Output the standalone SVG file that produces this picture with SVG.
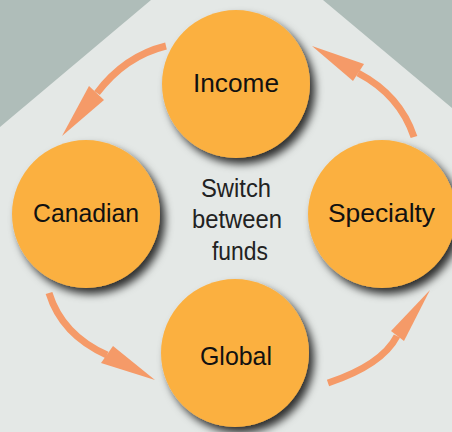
<svg xmlns="http://www.w3.org/2000/svg" width="452" height="432" viewBox="0 0 452 432">
  <style>
    .node circle { fill: #fbb041; filter: url(#shadow); }
    .label { font-family: "Liberation Sans", Arial, sans-serif; font-size: 26px; fill: #111; text-anchor: middle; }
    .center { font-family: "Liberation Sans", Arial, sans-serif; font-size: 25px; fill: #222; text-anchor: middle; }
    .shaft { fill: none; stroke: #f59a68; stroke-width: 7; stroke-linecap: butt; }
    .head { fill: #f59a68; }
  </style>
  <defs>
    <filter id="shadow" x="-30%" y="-30%" width="160%" height="160%">
      <feDropShadow dx="5" dy="6" stdDeviation="4" flood-color="#000" flood-opacity="0.8"/>
    </filter>
  </defs>

  <!-- backdrop -->
  <rect width="452" height="432" fill="#afbdb9"/>
  <polygon points="151,0 323,0 452,108 452,432 0,432 0,127" fill="#e4e8e6"/>

  <!-- connectors -->
  <g id="connectors">
    <path class="shaft" d="M166,46 Q125,56 97,93"/>
    <polygon class="head" points="89,86 104,100 62,136"/>

    <path class="shaft" d="M414,137 Q400,95 358,73"/>
    <polygon class="head" points="353,81 364,64 312,46"/>

    <path class="shaft" d="M49,293 Q62,335 107,355"/>
    <polygon class="head" points="101,363 113,346 155,380"/>

    <path class="shaft" d="M328,383 Q382,365 397,336"/>
    <polygon class="head" points="391,331 404,341 430,290"/>
  </g>

  <g id="income" class="node">
    <circle cx="236" cy="84" r="74"/>
    <text class="label" x="236" y="92" textLength="86" lengthAdjust="spacingAndGlyphs">Income</text>
  </g>
  <g id="canadian" class="node">
    <circle cx="86" cy="214" r="74"/>
    <text class="label" x="86" y="222" textLength="106" lengthAdjust="spacingAndGlyphs">Canadian</text>
  </g>
  <g id="specialty" class="node">
    <circle cx="382" cy="214" r="74"/>
    <text class="label" x="381.5" y="222" textLength="107" lengthAdjust="spacingAndGlyphs">Specialty</text>
  </g>
  <g id="global" class="node">
    <circle cx="235" cy="353" r="74"/>
    <text class="label" x="236" y="365" textLength="72" lengthAdjust="spacingAndGlyphs">Global</text>
  </g>

  <g id="hub">
    <text class="center" x="236" y="197" textLength="70" lengthAdjust="spacingAndGlyphs">Switch</text>
    <text class="center" x="237" y="228" textLength="90" lengthAdjust="spacingAndGlyphs">between</text>
    <text class="center" x="240" y="260" textLength="56" lengthAdjust="spacingAndGlyphs">funds</text>
  </g>
</svg>
